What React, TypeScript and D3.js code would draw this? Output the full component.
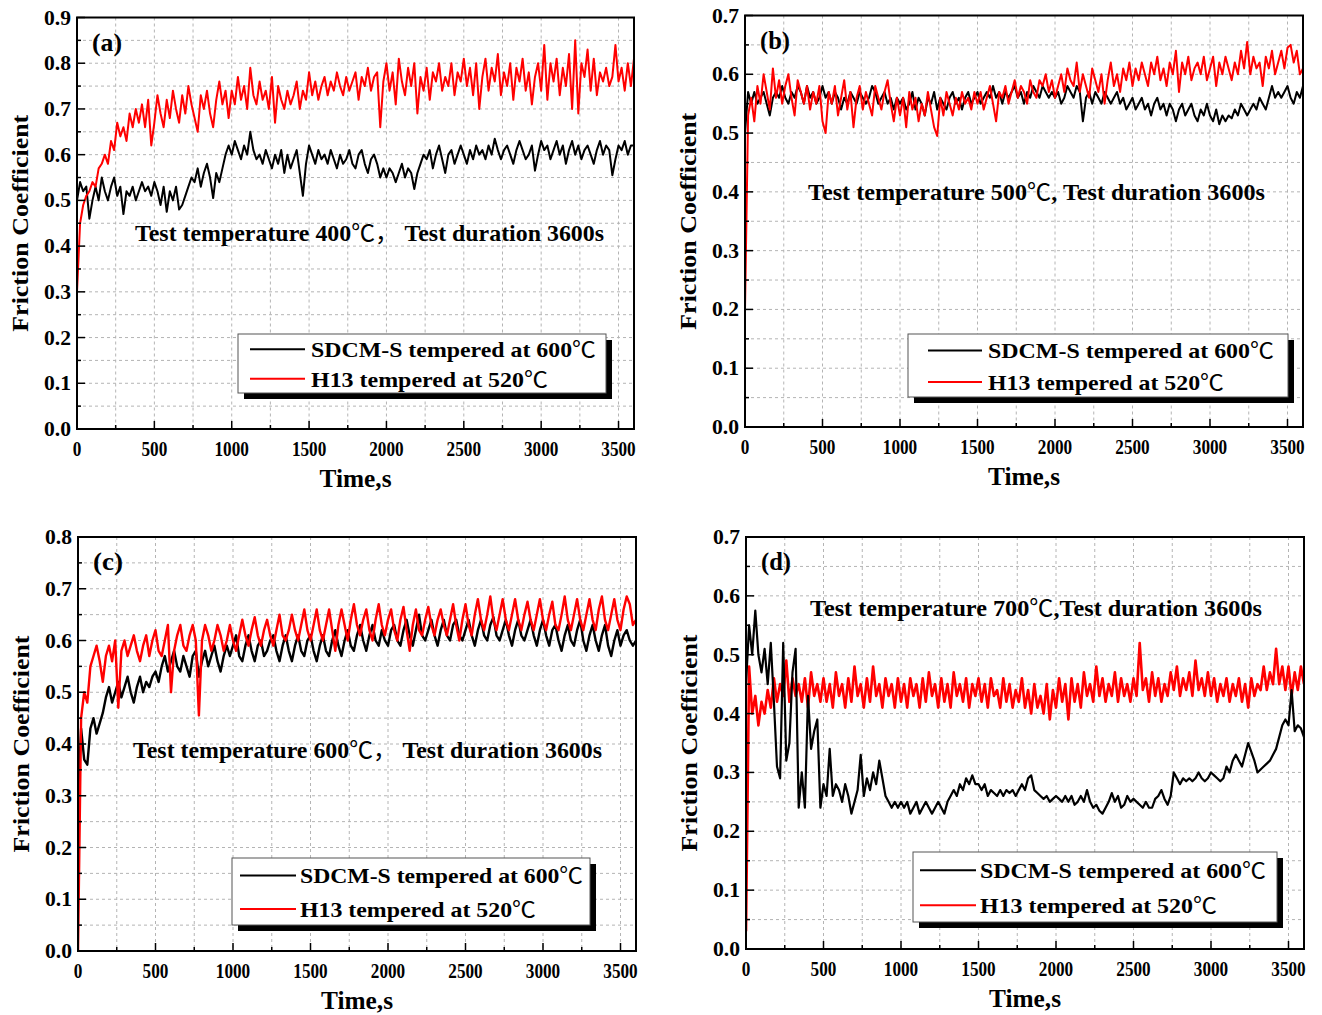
import React from "react"
import * as d3 from "d3"

// sampling interval of every series below (seconds)
const STEP = 20

// panel (a) 400 C
const aBlack = [
  0.50, 0.54, 0.52, 0.53, 0.46, 0.50, 0.53, 0.50, 0.55, 0.52, 0.50, 0.53, 0.55, 0.51, 0.53, 0.47, 0.52, 0.51, 0.53, 0.50, 0.52, 0.54, 0.52, 0.53, 0.51,
  0.54, 0.52, 0.49, 0.53, 0.475, 0.52, 0.50, 0.53, 0.48, 0.49, 0.51, 0.53, 0.55, 0.54, 0.57, 0.53, 0.56, 0.58, 0.55, 0.505, 0.56, 0.54, 0.57, 0.60, 0.62,
  0.60, 0.63, 0.61, 0.59, 0.62, 0.60, 0.65, 0.61, 0.59, 0.60, 0.58, 0.61, 0.59, 0.57, 0.60, 0.58, 0.61, 0.56, 0.60, 0.57, 0.59, 0.61, 0.56, 0.51, 0.58,
  0.62, 0.60, 0.58, 0.61, 0.59, 0.60, 0.58, 0.61, 0.59, 0.57, 0.60, 0.58, 0.59, 0.61, 0.58, 0.57, 0.60, 0.61, 0.58, 0.56, 0.59, 0.60, 0.58, 0.55, 0.57,
  0.55, 0.57, 0.56, 0.54, 0.56, 0.58, 0.55, 0.57, 0.56, 0.525, 0.56, 0.58, 0.60, 0.59, 0.61, 0.57, 0.60, 0.62, 0.59, 0.56, 0.60, 0.61, 0.58, 0.60, 0.62,
  0.60, 0.58, 0.61, 0.59, 0.62, 0.60, 0.61, 0.59, 0.62, 0.60, 0.635, 0.61, 0.59, 0.61, 0.62, 0.60, 0.58, 0.61, 0.63, 0.61, 0.59, 0.60, 0.62, 0.565, 0.60,
  0.63, 0.61, 0.62, 0.59, 0.61, 0.63, 0.60, 0.62, 0.58, 0.61, 0.63, 0.60, 0.62, 0.59, 0.61, 0.62, 0.60, 0.58, 0.61, 0.63, 0.60, 0.62, 0.61, 0.555, 0.59,
  0.62, 0.61, 0.63, 0.60, 0.62, 0.62,
]
const aRed = [
  0.30, 0.45, 0.49, 0.51, 0.52, 0.54, 0.53, 0.57, 0.58, 0.60, 0.58, 0.63, 0.61, 0.67, 0.64, 0.66, 0.63, 0.69, 0.66, 0.70, 0.67, 0.71, 0.66, 0.72, 0.62,
  0.67, 0.73, 0.69, 0.66, 0.72, 0.68, 0.74, 0.70, 0.67, 0.73, 0.69, 0.75, 0.71, 0.68, 0.65, 0.73, 0.70, 0.74, 0.69, 0.66, 0.72, 0.76, 0.71, 0.74, 0.68,
  0.74, 0.71, 0.77, 0.72, 0.75, 0.70, 0.79, 0.73, 0.71, 0.76, 0.72, 0.74, 0.70, 0.77, 0.67, 0.75, 0.72, 0.70, 0.74, 0.71, 0.73, 0.76, 0.70, 0.74, 0.72,
  0.78, 0.73, 0.76, 0.72, 0.75, 0.77, 0.73, 0.76, 0.74, 0.78, 0.75, 0.73, 0.77, 0.74, 0.76, 0.78, 0.72, 0.77, 0.75, 0.79, 0.74, 0.77, 0.78, 0.66, 0.76,
  0.80, 0.74, 0.78, 0.71, 0.81, 0.76, 0.73, 0.79, 0.75, 0.80, 0.69, 0.77, 0.74, 0.79, 0.72, 0.78, 0.76, 0.80, 0.74, 0.77, 0.75, 0.80, 0.73, 0.78, 0.76,
  0.81, 0.75, 0.79, 0.73, 0.80, 0.70, 0.77, 0.81, 0.74, 0.79, 0.76, 0.82, 0.73, 0.78, 0.75, 0.80, 0.72, 0.79, 0.76, 0.81, 0.74, 0.78, 0.71, 0.77, 0.80,
  0.74, 0.84, 0.72, 0.80, 0.76, 0.81, 0.73, 0.79, 0.75, 0.82, 0.70, 0.85, 0.69, 0.80, 0.77, 0.83, 0.74, 0.81, 0.73, 0.78, 0.76, 0.79, 0.75, 0.77, 0.84,
  0.76, 0.79, 0.74, 0.80, 0.75, 0.81,
]

// panel (b) 500 C
const bBlack = [
  0.50, 0.57, 0.55, 0.57, 0.55, 0.56, 0.57, 0.55, 0.53, 0.56, 0.57, 0.56, 0.58, 0.56, 0.55, 0.57, 0.56, 0.58, 0.57, 0.55, 0.58, 0.56, 0.57, 0.55, 0.56,
  0.58, 0.56, 0.57, 0.55, 0.57, 0.56, 0.54, 0.56, 0.55, 0.57, 0.56, 0.55, 0.57, 0.56, 0.55, 0.56, 0.58, 0.57, 0.55, 0.56, 0.57, 0.55, 0.56, 0.54, 0.56,
  0.55, 0.56, 0.54, 0.55, 0.57, 0.54, 0.56, 0.55, 0.53, 0.56, 0.55, 0.57, 0.54, 0.56, 0.55, 0.54, 0.56, 0.57, 0.55, 0.56, 0.54, 0.56, 0.57, 0.55, 0.56,
  0.57, 0.55, 0.56, 0.57, 0.56, 0.58, 0.56, 0.57, 0.55, 0.57, 0.56, 0.57, 0.58, 0.56, 0.57, 0.55, 0.57, 0.56, 0.58, 0.57, 0.56, 0.58, 0.57, 0.56, 0.57,
  0.56, 0.57, 0.55, 0.56, 0.58, 0.57, 0.56, 0.58, 0.57, 0.52, 0.56, 0.57, 0.55, 0.57, 0.56, 0.55, 0.57, 0.56, 0.55, 0.56, 0.57, 0.55, 0.56, 0.54, 0.55,
  0.56, 0.54, 0.55, 0.56, 0.54, 0.55, 0.53, 0.55, 0.56, 0.54, 0.55, 0.53, 0.55, 0.54, 0.52, 0.54, 0.55, 0.53, 0.54, 0.55, 0.53, 0.52, 0.54, 0.53, 0.55,
  0.53, 0.52, 0.54, 0.515, 0.53, 0.52, 0.53, 0.525, 0.54, 0.53, 0.55, 0.54, 0.53, 0.54, 0.55, 0.54, 0.56, 0.55, 0.54, 0.56, 0.58, 0.56, 0.57, 0.56, 0.57,
  0.58, 0.56, 0.55, 0.57, 0.56, 0.58,
]
const bRed = [
  0.20, 0.53, 0.56, 0.52, 0.58, 0.55, 0.60, 0.57, 0.54, 0.61, 0.56, 0.59, 0.55, 0.58, 0.60, 0.56, 0.53, 0.59, 0.57, 0.55, 0.58, 0.54, 0.57, 0.55, 0.58,
  0.52, 0.50, 0.57, 0.55, 0.58, 0.53, 0.56, 0.59, 0.54, 0.57, 0.51, 0.56, 0.58, 0.54, 0.57, 0.55, 0.53, 0.58, 0.56, 0.54, 0.57, 0.59, 0.55, 0.52, 0.56,
  0.53, 0.56, 0.51, 0.57, 0.54, 0.56, 0.52, 0.55, 0.53, 0.57, 0.54, 0.51, 0.495, 0.56, 0.53, 0.57, 0.55, 0.53, 0.56, 0.54, 0.57, 0.55, 0.56, 0.54, 0.57,
  0.55, 0.57, 0.54, 0.56, 0.58, 0.55, 0.52, 0.57, 0.56, 0.58, 0.55, 0.57, 0.59, 0.56, 0.58, 0.57, 0.55, 0.59, 0.57, 0.56, 0.59, 0.58, 0.60, 0.57, 0.59,
  0.56, 0.58, 0.60, 0.57, 0.61, 0.59, 0.58, 0.62, 0.57, 0.60, 0.58, 0.56, 0.61, 0.59, 0.57, 0.60, 0.55, 0.59, 0.62, 0.58, 0.60, 0.57, 0.61, 0.59, 0.62,
  0.58, 0.61, 0.59, 0.62, 0.60, 0.58, 0.62, 0.60, 0.63, 0.59, 0.61, 0.58, 0.62, 0.60, 0.64, 0.57, 0.62, 0.60, 0.63, 0.59, 0.61, 0.62, 0.60, 0.63, 0.59,
  0.61, 0.63, 0.58, 0.62, 0.60, 0.63, 0.61, 0.59, 0.62, 0.60, 0.64, 0.61, 0.655, 0.60, 0.63, 0.61, 0.62, 0.58, 0.63, 0.61, 0.64, 0.60, 0.62, 0.64, 0.61,
  0.645, 0.65, 0.62, 0.64, 0.60, 0.61,
]

// panel (c) 600 C
const cBlack = [
  0.30, 0.43, 0.37, 0.36, 0.43, 0.45, 0.42, 0.44, 0.46, 0.49, 0.51, 0.48, 0.50, 0.52, 0.49, 0.51, 0.53, 0.50, 0.48, 0.51, 0.53, 0.50, 0.52, 0.51, 0.53,
  0.54, 0.52, 0.55, 0.57, 0.54, 0.56, 0.58, 0.55, 0.54, 0.57, 0.55, 0.53, 0.57, 0.58, 0.53, 0.56, 0.58, 0.55, 0.57, 0.59, 0.56, 0.54, 0.57, 0.59, 0.57,
  0.59, 0.61, 0.57, 0.56, 0.59, 0.61, 0.58, 0.56, 0.59, 0.60, 0.57, 0.58, 0.60, 0.61, 0.58, 0.56, 0.59, 0.61, 0.58, 0.56, 0.59, 0.61, 0.58, 0.57, 0.60,
  0.61, 0.58, 0.56, 0.59, 0.61, 0.58, 0.57, 0.60, 0.62, 0.59, 0.57, 0.60, 0.62, 0.59, 0.58, 0.61, 0.63, 0.60, 0.58, 0.61, 0.63, 0.60, 0.59, 0.62, 0.60,
  0.59, 0.62, 0.63, 0.60, 0.59, 0.62, 0.64, 0.61, 0.59, 0.62, 0.65, 0.61, 0.60, 0.62, 0.64, 0.61, 0.59, 0.62, 0.64, 0.61, 0.60, 0.63, 0.64, 0.61, 0.60,
  0.62, 0.64, 0.61, 0.59, 0.62, 0.64, 0.61, 0.60, 0.63, 0.645, 0.61, 0.60, 0.62, 0.64, 0.61, 0.59, 0.62, 0.64, 0.61, 0.60, 0.62, 0.64, 0.61, 0.59, 0.62,
  0.64, 0.61, 0.59, 0.62, 0.63, 0.60, 0.58, 0.61, 0.63, 0.60, 0.59, 0.62, 0.64, 0.60, 0.58, 0.61, 0.63, 0.60, 0.58, 0.61, 0.63, 0.59, 0.57, 0.60, 0.62,
  0.59, 0.61, 0.62, 0.60, 0.59, 0.60,
]
const cRed = [
  0.00, 0.45, 0.50, 0.48, 0.55, 0.57, 0.59, 0.56, 0.52, 0.57, 0.59, 0.56, 0.60, 0.47, 0.58, 0.60, 0.57, 0.59, 0.61, 0.58, 0.56, 0.59, 0.61, 0.57, 0.60,
  0.62, 0.58, 0.57, 0.60, 0.63, 0.50, 0.58, 0.61, 0.63, 0.59, 0.58, 0.61, 0.63, 0.60, 0.455, 0.60, 0.63, 0.61, 0.58, 0.60, 0.63, 0.61, 0.58, 0.60, 0.63,
  0.60, 0.58, 0.61, 0.64, 0.61, 0.59, 0.62, 0.645, 0.61, 0.59, 0.62, 0.64, 0.61, 0.59, 0.62, 0.65, 0.61, 0.60, 0.62, 0.65, 0.62, 0.60, 0.63, 0.66, 0.62,
  0.60, 0.63, 0.66, 0.62, 0.60, 0.63, 0.66, 0.62, 0.58, 0.63, 0.66, 0.63, 0.60, 0.64, 0.67, 0.63, 0.61, 0.64, 0.66, 0.62, 0.60, 0.64, 0.67, 0.63, 0.61,
  0.64, 0.66, 0.62, 0.60, 0.64, 0.665, 0.62, 0.58, 0.63, 0.66, 0.62, 0.61, 0.64, 0.665, 0.63, 0.61, 0.64, 0.66, 0.63, 0.61, 0.64, 0.67, 0.63, 0.60, 0.64,
  0.67, 0.63, 0.61, 0.65, 0.68, 0.64, 0.62, 0.65, 0.685, 0.64, 0.62, 0.65, 0.68, 0.64, 0.62, 0.65, 0.68, 0.64, 0.62, 0.65, 0.675, 0.64, 0.62, 0.65, 0.68,
  0.64, 0.62, 0.65, 0.675, 0.63, 0.62, 0.65, 0.685, 0.64, 0.62, 0.65, 0.68, 0.64, 0.62, 0.65, 0.68, 0.64, 0.62, 0.66, 0.685, 0.64, 0.62, 0.65, 0.68, 0.64,
  0.62, 0.66, 0.685, 0.67, 0.63, 0.64,
]

// panel (d) 700 C
const dBlack = [
  0.45, 0.55, 0.50, 0.575, 0.50, 0.47, 0.51, 0.45, 0.52, 0.42, 0.31, 0.29, 0.52, 0.32, 0.35, 0.47, 0.51, 0.24, 0.30, 0.24, 0.43, 0.34, 0.37, 0.39, 0.24,
  0.28, 0.26, 0.34, 0.26, 0.28, 0.27, 0.25, 0.28, 0.26, 0.23, 0.25, 0.27, 0.33, 0.26, 0.29, 0.27, 0.30, 0.28, 0.32, 0.29, 0.26, 0.25, 0.24, 0.25, 0.24,
  0.25, 0.24, 0.25, 0.23, 0.24, 0.25, 0.23, 0.24, 0.25, 0.24, 0.23, 0.24, 0.25, 0.24, 0.23, 0.25, 0.26, 0.27, 0.26, 0.28, 0.27, 0.29, 0.28, 0.295, 0.28,
  0.28, 0.27, 0.28, 0.26, 0.27, 0.265, 0.26, 0.27, 0.26, 0.27, 0.265, 0.27, 0.26, 0.27, 0.28, 0.27, 0.29, 0.295, 0.27, 0.265, 0.26, 0.255, 0.26, 0.25, 0.255,
  0.26, 0.255, 0.25, 0.26, 0.25, 0.26, 0.245, 0.25, 0.26, 0.25, 0.27, 0.25, 0.24, 0.245, 0.235, 0.23, 0.24, 0.25, 0.265, 0.25, 0.26, 0.24, 0.245, 0.26, 0.25,
  0.255, 0.25, 0.245, 0.24, 0.25, 0.24, 0.24, 0.255, 0.26, 0.27, 0.255, 0.245, 0.26, 0.30, 0.29, 0.28, 0.29, 0.285, 0.29, 0.285, 0.29, 0.30, 0.29, 0.285, 0.29,
  0.30, 0.295, 0.29, 0.285, 0.29, 0.31, 0.30, 0.32, 0.33, 0.32, 0.31, 0.33, 0.35, 0.335, 0.32, 0.30, 0.305, 0.31, 0.315, 0.32, 0.33, 0.34, 0.36, 0.38, 0.39,
  0.38, 0.44, 0.37, 0.38, 0.375, 0.36,
]
const dRed = [
  0.03, 0.48, 0.40, 0.43, 0.38, 0.42, 0.40, 0.44, 0.41, 0.46, 0.42, 0.45, 0.43, 0.49, 0.42, 0.46, 0.43, 0.45, 0.42, 0.46, 0.41, 0.47, 0.43, 0.45, 0.42,
  0.46, 0.42, 0.45, 0.41, 0.47, 0.43, 0.45, 0.41, 0.46, 0.42, 0.48, 0.43, 0.45, 0.41, 0.46, 0.42, 0.48, 0.43, 0.45, 0.41, 0.46, 0.43, 0.45, 0.41, 0.46,
  0.42, 0.45, 0.41, 0.46, 0.43, 0.45, 0.41, 0.46, 0.42, 0.47, 0.43, 0.45, 0.41, 0.46, 0.42, 0.45, 0.41, 0.47, 0.43, 0.45, 0.42, 0.46, 0.41, 0.45, 0.43,
  0.46, 0.42, 0.45, 0.41, 0.46, 0.43, 0.44, 0.41, 0.46, 0.42, 0.45, 0.41, 0.44, 0.42, 0.46, 0.41, 0.44, 0.40, 0.45, 0.41, 0.43, 0.40, 0.45, 0.39, 0.44,
  0.41, 0.46, 0.42, 0.45, 0.39, 0.46, 0.42, 0.45, 0.41, 0.47, 0.43, 0.45, 0.42, 0.48, 0.43, 0.46, 0.42, 0.45, 0.43, 0.47, 0.42, 0.46, 0.43, 0.45, 0.42,
  0.46, 0.43, 0.52, 0.44, 0.46, 0.42, 0.47, 0.43, 0.46, 0.42, 0.45, 0.43, 0.47, 0.44, 0.48, 0.43, 0.46, 0.44, 0.47, 0.43, 0.49, 0.44, 0.46, 0.43, 0.47,
  0.43, 0.46, 0.42, 0.45, 0.43, 0.46, 0.42, 0.45, 0.43, 0.46, 0.42, 0.45, 0.41, 0.46, 0.43, 0.45, 0.44, 0.48, 0.44, 0.47, 0.45, 0.51, 0.45, 0.48, 0.44,
  0.48, 0.43, 0.47, 0.44, 0.48, 0.45,
]

const seriesNames = ["SDCM-S tempered at 600℃", "H13 tempered at 520℃"]
const xTicks = [0, 500, 1000, 1500, 2000, 2500, 3000, 3500]

const FONT = '"Liberation Serif", "Times New Roman", "DejaVu Serif", serif'
const CJK = '"Noto Sans CJK SC", "Noto Sans CJK JP", sans-serif'

const panels = [
  {
    id: "a", left: 77, right: 634, top: 17.5, bottom: 429, yMax: 0.9,
    black: aBlack, red: aRed, redOnTop: true, redW: 2, blackW: 2,
    note: "Test temperature 400℃， Test duration 3600s", noteX: 135, noteW: 469, noteY: 241,
    legend: { x: 238, y: 334, w: 368, h: 59, lx1: 250, lx2: 305, tx: 311, w1: 285, w2: 237 },
  },
  {
    id: "b", left: 745, right: 1303, top: 15.5, bottom: 427, yMax: 0.7,
    black: bBlack, red: bRed, redOnTop: true, redW: 2, blackW: 2,
    note: "Test temperature 500℃, Test duration 3600s", noteX: 808, noteW: 457, noteY: 200,
    legend: { x: 908, y: 334, w: 380, h: 63, lx1: 928, lx2: 982, tx: 988, w1: 286, w2: 236 },
  },
  {
    id: "c", left: 78, right: 636, top: 537, bottom: 951, yMax: 0.8,
    black: cBlack, red: cRed, redOnTop: true, redW: 2.4, blackW: 2.4,
    note: "Test temperature 600℃， Test duration 3600s", noteX: 133, noteW: 469, noteY: 758,
    legend: { x: 232, y: 858, w: 358, h: 67, lx1: 240, lx2: 296, tx: 300, w1: 283, w2: 236 },
  },
  {
    id: "d", left: 746, right: 1304, top: 537, bottom: 949, yMax: 0.7,
    black: dBlack, red: dRed, redOnTop: false, redW: 2.6, blackW: 2.2,
    note: "Test temperature 700℃,Test duration 3600s", noteX: 810, noteW: 452, noteY: 616,
    legend: { x: 913, y: 852, w: 364, h: 70, lx1: 920, lx2: 976, tx: 980, w1: 286, w2: 237 },
  },
]

// the degree sign and full-width comma come from a CJK font, as in the original figure
function richText(str) {
  return str.split(/([℃，])/).map((part, i) =>
    part === "℃" || part === "，" ? (
      <tspan key={i} fontFamily={CJK} fontWeight="normal">
        {part}
      </tspan>
    ) : (
      <tspan key={i}>{part}</tspan>
    ),
  )
}

function Panel({ p }) {
  const x = d3.scaleLinear().domain([0, 3600]).range([p.left, p.right])
  const y = d3.scaleLinear().domain([0, p.yMax]).range([p.bottom, p.top])
  const line = d3
    .line()
    .x((d, i) => x(i * STEP))
    .y((d) => y(d))

  const nY = Math.round(p.yMax / 0.05)
  const yGrid = d3.range(1, nY).map((k) => k * 0.05)
  const yMajor = d3.range(0, nY + 1, 2).map((k) => k * 0.05)
  const yMinor = d3.range(1, nY, 2).map((k) => k * 0.05)
  const xGrid = d3.range(250, 3600, 250)
  const xMinor = d3.range(250, 3600, 500)
  const fmt = d3.format(".1f")
  const midY = (p.top + p.bottom) / 2
  const midX = (p.left + p.right) / 2
  const lg = p.legend
  const row1 = lg.y + lg.h * 0.26
  const row2 = lg.y + lg.h * 0.76

  const blackPath = (
    <path d={line(p.black)} fill="none" stroke="#000" strokeWidth={p.blackW} strokeLinejoin="round" />
  )
  const redPath = (
    <path d={line(p.red)} fill="none" stroke="#ff0000" strokeWidth={p.redW} strokeLinejoin="round" />
  )

  return (
    <g>
      <defs>
        <clipPath id={`clip-${p.id}`}>
          <rect x={p.left} y={p.top} width={p.right - p.left} height={p.bottom - p.top} />
        </clipPath>
      </defs>

      {/* dashed grid at every major and minor tick */}
      <g stroke="#b4b4b4" strokeWidth={1} strokeDasharray="3,3">
        {yGrid.map((v) => (
          <line key={`gy${v}`} x1={p.left} x2={p.right} y1={y(v)} y2={y(v)} />
        ))}
        {xGrid.map((v) => (
          <line key={`gx${v}`} x1={x(v)} x2={x(v)} y1={p.top} y2={p.bottom} />
        ))}
      </g>

      <g clipPath={`url(#clip-${p.id})`}>
        {p.redOnTop ? blackPath : redPath}
        {p.redOnTop ? redPath : blackPath}
      </g>

      {/* inward ticks */}
      <g stroke="#000" strokeWidth={1.5}>
        {yMajor.map((v) => (
          <line key={`ty${v}`} x1={p.left} x2={p.left + 8} y1={y(v)} y2={y(v)} />
        ))}
        {yMinor.map((v) => (
          <line key={`tym${v}`} x1={p.left} x2={p.left + 4} y1={y(v)} y2={y(v)} />
        ))}
        {xTicks.map((v) => (
          <line key={`tx${v}`} x1={x(v)} x2={x(v)} y1={p.bottom} y2={p.bottom - 8} />
        ))}
        {xMinor.map((v) => (
          <line key={`txm${v}`} x1={x(v)} x2={x(v)} y1={p.bottom} y2={p.bottom - 4} />
        ))}
      </g>

      <rect x={p.left} y={p.top} width={p.right - p.left} height={p.bottom - p.top} fill="none" stroke="#000" strokeWidth={2} />

      <g fontFamily={FONT} fontWeight="bold" fontSize={21} fill="#000">
        {yMajor.map((v) => (
          <text key={`ly${v}`} x={p.left - 6} y={y(v) + 7} textAnchor="end" textLength={27} lengthAdjust="spacingAndGlyphs">
            {fmt(v)}
          </text>
        ))}
        {xTicks.map((v) => (
          <text
            key={`lx${v}`}
            x={x(v)}
            y={p.bottom + 27}
            textAnchor="middle"
            textLength={String(v).length * 8.6}
            lengthAdjust="spacingAndGlyphs"
          >
            {v}
          </text>
        ))}
      </g>

      <g fontFamily={FONT} fontWeight="bold" fill="#000">
        <text x={midX} y={p.bottom + 58} textAnchor="middle" fontSize={25} textLength={72} lengthAdjust="spacingAndGlyphs">
          Time,s
        </text>
        <text
          transform={`translate(${p.left - 49},${midY}) rotate(-90)`}
          textAnchor="middle"
          fontSize={24}
          textLength={217}
          lengthAdjust="spacingAndGlyphs"
        >
          Friction Coefficient
        </text>
        <text x={p.left + 15} y={p.top + 33} fontSize={25} textLength={30} lengthAdjust="spacingAndGlyphs">
          ({p.id})
        </text>
        <text x={p.noteX} y={p.noteY} fontSize={23} textLength={p.noteW} lengthAdjust="spacingAndGlyphs">
          {richText(p.note)}
        </text>
      </g>

      {/* legend with drop shadow */}
      <rect x={lg.x + 6} y={lg.y + 6} width={lg.w} height={lg.h} fill="#000" />
      <rect x={lg.x} y={lg.y} width={lg.w} height={lg.h} fill="#fff" stroke="#555" strokeWidth={1} />
      <line x1={lg.lx1} x2={lg.lx2} y1={row1} y2={row1} stroke="#000" strokeWidth={2} />
      <line x1={lg.lx1} x2={lg.lx2} y1={row2} y2={row2} stroke="#ff0000" strokeWidth={2} />
      <g fontFamily={FONT} fontWeight="bold" fontSize={22} fill="#000">
        <text x={lg.tx} y={row1 + 8} textLength={lg.w1} lengthAdjust="spacingAndGlyphs">
          {richText(seriesNames[0])}
        </text>
        <text x={lg.tx} y={row2 + 8} textLength={lg.w2} lengthAdjust="spacingAndGlyphs">
          {richText(seriesNames[1])}
        </text>
      </g>
    </g>
  )
}

export default function App() {
  return (
    <svg
      width={1322}
      height={1015}
      style={{ position: "absolute", left: 0, top: 0, background: "#fff" }}
    >
      <rect width={1322} height={1015} fill="#fff" />
      {panels.map((p) => (
        <Panel key={p.id} p={p} />
      ))}
    </svg>
  )
}
